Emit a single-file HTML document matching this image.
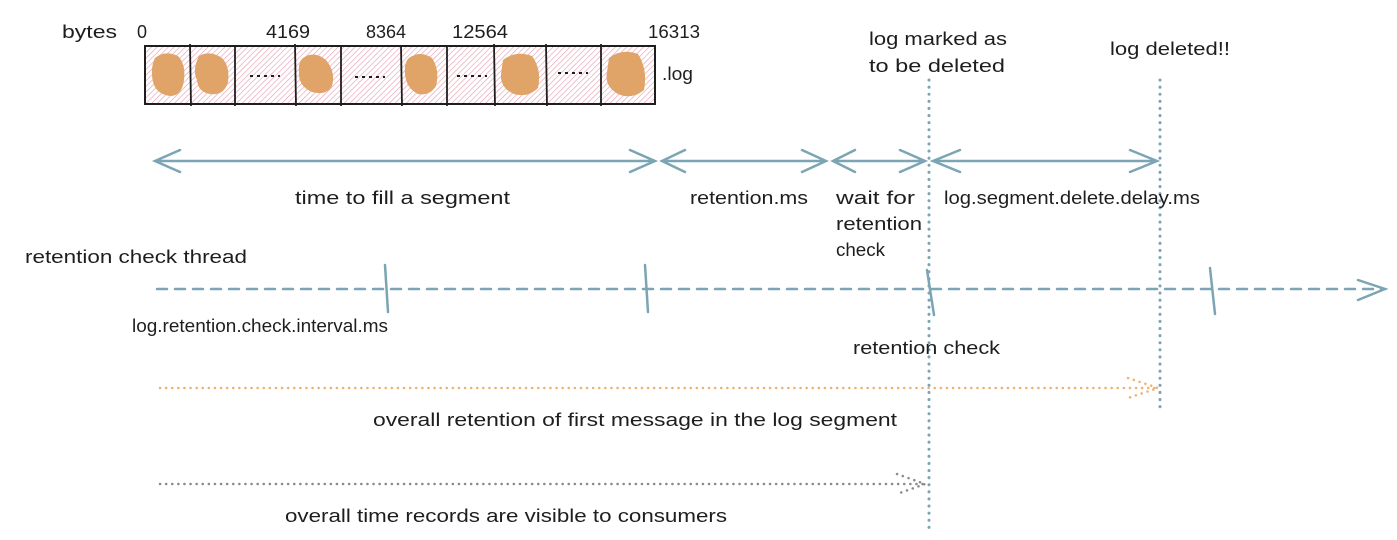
<!DOCTYPE html>
<html><head><meta charset="utf-8"><style>
html,body{margin:0;padding:0;background:#fff;}
svg{display:block}
text{font-family:"Liberation Sans",sans-serif;font-size:18px;fill:#1e1e1e}
</style></head><body>
<svg width="1397" height="540" viewBox="0 0 1397 540" xmlns="http://www.w3.org/2000/svg">
<defs>
<pattern id="h" width="4" height="4" patternUnits="userSpaceOnUse" patternTransform="rotate(45)">
<line x1="0" y1="0" x2="0" y2="4" stroke="#e49aae" stroke-width="1.2"/>
</pattern>
</defs>
<rect x="145" y="46" width="510" height="58" fill="url(#h)" stroke="#1e1e1e" stroke-width="2"/>
<g stroke="#1e1e1e" stroke-width="1.8">
<line x1="190" y1="44" x2="191" y2="106"/>
<line x1="235" y1="46" x2="235" y2="106"/>
<line x1="295" y1="44" x2="296" y2="106"/>
<line x1="341" y1="46" x2="341" y2="106"/>
<line x1="401" y1="46" x2="402" y2="106"/>
<line x1="447" y1="46" x2="447" y2="106"/>
<line x1="494" y1="44" x2="495" y2="106"/>
<line x1="546" y1="44" x2="547" y2="106"/>
<line x1="601" y1="44" x2="601" y2="106"/>
</g>
<g fill="#e0a468">
<path d="M155 58 Q165 50 178 56 Q186 64 184 80 Q182 96 170 96 Q156 94 153 82 Q150 68 155 58Z"/>
<path d="M199 56 Q210 50 222 58 Q230 66 228 82 Q224 96 210 94 Q198 92 197 80 Q192 70 199 56Z"/>
<path d="M303 58 Q314 50 326 60 Q336 72 332 86 Q326 96 312 92 Q298 86 299 72 Q298 62 303 58Z"/>
<path d="M409 58 Q420 50 432 58 Q440 70 436 86 Q430 96 418 94 Q406 88 405 74 Q404 62 409 58Z"/>
<path d="M503 60 Q516 50 532 56 Q542 70 538 88 Q528 98 514 94 Q500 88 501 74 Z"/>
<path d="M609 58 Q622 48 638 54 Q648 70 644 90 Q632 100 618 94 Q604 86 607 72 Z"/>
</g>
<g stroke="#1e1e1e" stroke-width="2" stroke-dasharray="3 4">
<line x1="250" y1="76" x2="280" y2="76"/><line x1="355" y1="77" x2="385" y2="77"/>
<line x1="457" y1="76" x2="487" y2="76"/><line x1="558" y1="73" x2="588" y2="73"/>
</g>
<text x="62" y="38" textLength="55" lengthAdjust="spacingAndGlyphs">bytes</text>
<text x="137" y="38">0</text>
<text x="266" y="38" textLength="44" lengthAdjust="spacingAndGlyphs">4169</text>
<text x="366" y="38" textLength="40" lengthAdjust="spacingAndGlyphs">8364</text>
<text x="452" y="38" textLength="56" lengthAdjust="spacingAndGlyphs">12564</text>
<text x="648" y="38" textLength="52" lengthAdjust="spacingAndGlyphs">16313</text>
<text x="662" y="80" textLength="31" lengthAdjust="spacingAndGlyphs">.log</text>
<text x="869" y="45" textLength="138" lengthAdjust="spacingAndGlyphs">log marked as</text>
<text x="869" y="72" textLength="136" lengthAdjust="spacingAndGlyphs">to be deleted</text>
<text x="1110" y="55" textLength="120" lengthAdjust="spacingAndGlyphs">log deleted!!</text>
<g stroke="#7ba5b4" stroke-width="3" stroke-dasharray="0.1 7" stroke-linecap="round">
<line x1="929" y1="80" x2="929" y2="530"/><line x1="1160" y1="80" x2="1160" y2="407"/>
</g>
<g stroke="#7ba5b4" stroke-width="2.5" fill="none" stroke-linecap="round">
<path d="M155 161H655M180 150L155 161L180 172M630 150L655 161L630 172"/>
<path d="M662 161H826M685 150L662 161L685 172M802 150L826 161L802 172"/>
<path d="M833 161H925M855 150L833 161L855 172M900 150L925 161L900 172"/>
<path d="M933 161H1157M960 150L933 161L960 172M1130 150L1157 161L1130 172"/>
<path d="M157 289H1385" stroke-dasharray="10 8"/>
<path d="M1358 280L1385 289L1358 300"/>
<path d="M385 265L388 312M645 265L648 312M927 270L934 315M1210 268L1215 314"/>
</g>
<text x="295" y="204" textLength="215" lengthAdjust="spacingAndGlyphs">time to fill a segment</text>
<text x="690" y="204" textLength="118" lengthAdjust="spacingAndGlyphs">retention.ms</text>
<text x="836" y="204" textLength="79" lengthAdjust="spacingAndGlyphs">wait for</text>
<text x="836" y="230" textLength="86" lengthAdjust="spacingAndGlyphs">retention</text>
<text x="836" y="256" textLength="49" lengthAdjust="spacingAndGlyphs">check</text>
<text x="944" y="204" textLength="256" lengthAdjust="spacingAndGlyphs">log.segment.delete.delay.ms</text>
<text x="25" y="263" textLength="222" lengthAdjust="spacingAndGlyphs">retention check thread</text>
<text x="132" y="332" textLength="256" lengthAdjust="spacingAndGlyphs">log.retention.check.interval.ms</text>
<text x="853" y="354" textLength="147" lengthAdjust="spacingAndGlyphs">retention check</text>
<g fill="none" stroke-width="2.5" stroke-linecap="round" stroke-dasharray="0.1 6">
<path d="M160 388H1158M1128 378L1158 388L1128 398" stroke="#f0b070"/>
<path d="M160 484H925M897 474L925 484L897 494" stroke="#8a8a8a"/>
</g>
<text x="373" y="426" textLength="524" lengthAdjust="spacingAndGlyphs">overall retention of first message in the log segment</text>
<text x="285" y="522" textLength="442" lengthAdjust="spacingAndGlyphs">overall time records are visible to consumers</text>
</svg>
</body></html>
